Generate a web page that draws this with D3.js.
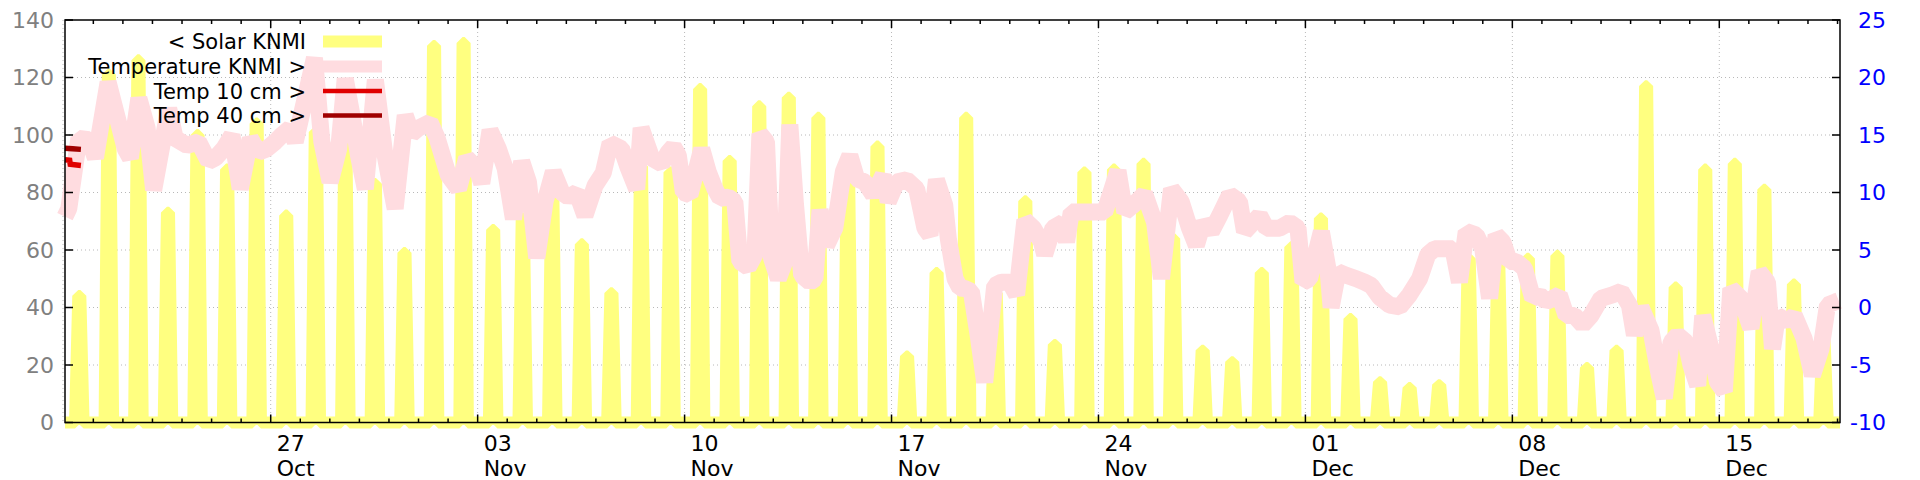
<!DOCTYPE html>
<html><head><meta charset="utf-8">
<script src="https://cdn.jsdelivr.net/npm/d3@7"></script>
<style>
html,body{margin:0;padding:0;background:#fff;}
svg{display:block;font-family:"DejaVu Sans",sans-serif;}
</style></head>
<body><svg id="chart" width="1920" height="480"></svg>
<script>
// ---------------- data ----------------
const domainStart = "2023-10-20T01:00:00Z";
const domainEnd   = "2023-12-19T02:00:00Z";
const firstDay    = "2023-10-20";
// daily peak of solar radiation (left axis), one per day from 20 Oct
const solarPeak = [44,121,126,73,100,88,104,72,101,98,
                   83,59,131,132,67,71,80,62,45,89,
                   87,116,91,110,113,106,91,96,23,52,
                   106,45,77,27,87,88,90,64,25,21,
                   52,61,71,36,14,12,13,57,55,57,
                   58,19,25,117,47,88,90,81,48,29];
// temperature KNMI (right axis): time in days after 20 Oct 00:00, value in °C
const tempDay = [0.04,0.17,0.51,0.85,1.07,1.50,1.86,2.08,2.25,2.54,2.82,3.04,3.55,3.77,4.17,4.56,4.90,5.13,5.41,5.69,5.97,6.31,6.59,6.87,7.15,7.38,7.66,7.83,8.48,8.73,9.01,9.30,9.52,9.75,9.97,10.20,
  10.54,10.85,11.21,11.55,11.77,12.0,12.39,12.62,13.01,13.35,13.63,13.97,14.14,14.42,14.70,14.93,15.21,15.49,15.72,16.0,16.28,16.56,16.85,17.07,17.35,17.63,17.97,18.25,18.48,18.87,19.10,19.38,19.53,19.89,20.23,20.45,
  20.62,20.79,20.96,21.18,21.58,21.80,22.03,22.20,22.48,22.70,22.87,23.15,23.38,23.55,23.77,23.94,24.17,24.39,24.56,24.75,24.96,25.24,25.41,25.58,25.80,26.08,26.37,26.59,26.82,27.1,27.38,27.72,27.89,28.17,28.51,28.85,29.13,29.30,29.52,29.80,29.92,30.15,30.31,
  30.48,30.7,30.93,31.15,31.49,31.72,32.0,32.23,32.51,32.8,33.07,33.18,33.46,33.80,33.92,34.08,34.37,34.65,34.93,35.21,35.66,35.89,36.17,36.56,36.90,37.13,37.47,37.80,38.08,38.31,38.54,38.82,39.10,39.44,39.77,39.94,40.23,
  40.45,40.68,40.90,41.13,41.47,41.75,41.92,42.14,42.54,42.76,42.87,43.10,43.38,43.72,44.0,44.23,44.51,44.85,45.19,45.52,45.86,46.14,46.37,46.76,46.99,47.21,47.44,47.78,48.0,48.23,48.45,48.68,48.90,49.13,49.41,49.69,49.92,50.14,50.37,
  50.59,50.82,51.10,51.38,51.66,52.0,52.39,52.68,52.96,53.13,53.35,53.69,53.97,54.14,54.37,54.59,54.87,55.04,55.27,55.44,55.72,55.94,56.17,56.39,56.73,57.07,57.35,57.63,57.80,57.97,58.31,58.54,58.87,59.15,59.44,59.66,59.94,60.04];
const tempVal = [7.9,8.6,14.7,14.6,13.0,19.6,16.0,13.8,13.0,18.2,15.6,10.2,17.3,14.7,14.1,14.4,12.7,13.0,13.8,15.0,10.3,14.7,13.5,13.8,14.4,15.0,15.6,14.4,21.7,14.4,10.9,13.8,19.9,16.7,13.2,10.3,
  19.8,13.5,8.6,16.7,15.1,15.6,16.1,14.8,11.5,10.3,13.0,12.1,10.8,15.4,13.8,12.1,7.7,12.7,10.9,4.3,9.2,11.8,10.0,9.6,10.0,8.0,10.6,11.7,14.3,13.8,12.1,10.3,15.6,13.0,12.5,13.5,
  14.0,13.2,10.0,9.8,13.8,11.8,10.3,9.5,9.6,9.2,4.0,3.5,4.6,15.1,14.4,4.3,2.5,4.0,15.9,9.0,2.8,2.2,2.5,8.5,5.4,6.9,11.8,13.2,11.2,10.9,9.8,11.5,9.2,10.9,11.1,10.3,6.9,6.3,11.1,8.9,6.0,2.5,1.7,
  1.65,1.4,-2.4,-6.5,1.9,2.2,2.2,1.1,7.6,6.9,5.7,4.6,6.9,7.4,5.7,8.3,8.3,8.3,8.3,8.3,11.9,8.3,8.9,9.9,7.4,2.5,10.3,9.2,6.9,5.4,7.4,6.6,8.0,9.8,9.2,6.6,7.4,
  8.0,6.9,6.9,6.9,7.4,6.9,2.2,2.5,6.6,3.4,0.0,3.1,2.8,2.5,2.2,1.9,0.9,0.2,0.06,1.1,2.5,4.6,5.1,5.1,5.1,2.2,6.6,6.3,5.1,0.8,6.3,5.7,4.0,4.0,3.4,0.8,1.1,0.5,0.8,
  1.1,-0.7,-0.7,-1.5,-0.7,0.8,1.1,1.4,0.2,-2.4,0.0,-2.0,-5.9,-7.9,-3.0,-2.4,-3.0,-5.0,-6.8,-0.7,-3.6,-6.5,-7.3,1.65,0.8,-1.8,3.1,2.2,-3.6,-0.7,-1.2,-0.7,-2.7,-5.9,-3.6,0.2,0.5,0.6];
// soil temperatures (right axis)
const t10Day = [0.04,0.20,0.22,0.58];
const t10Val = [12.85,12.8,12.45,12.35];
const t40Day = [0.04,0.30,0.58];
const t40Val = [13.85,13.8,13.75];
// axis ticks
const leftTicks  = [0,20,40,60,80,100,120,140];
const rightTicks = [-10,-5,0,5,10,15,20,25];
const xTickDates = ["2023-10-27","2023-11-03","2023-11-10","2023-11-17","2023-11-24","2023-12-01","2023-12-08","2023-12-15"];
const legendLabels = ["< Solar KNMI","Temperature KNMI >","Temp 10 cm >","Temp 40 cm >"];

// ---------------- layout ----------------
const L = 65, R = 1840, T = 20, B = 422.5;
const svg = d3.select("#chart");
const parse = s => new Date(s.length > 10 ? s : s + "T00:00:00Z");
const day0 = parse(firstDay);
const atDay = d => new Date(day0.getTime() + d * 864e5);

const x = d3.scaleUtc().domain([parse(domainStart), parse(domainEnd)]).range([L, R]);
const yL = d3.scaleLinear().domain([0, 140]).range([B, T]);
const yR = d3.scaleLinear().domain([-10, 25]).range([B, T]);

const YELLOW = "#ffff80", PINK = "#ffdce0", RED = "#e00000", DRED = "#a00000";

// grid
const grid = svg.append("g");
leftTicks.filter(v => v > 0 && v < 140).forEach(v => {
  grid.append("line").attr("x1", L).attr("x2", R).attr("y1", yL(v)).attr("y2", yL(v))
    .attr("stroke", "#b8b8b8").attr("stroke-width", 1).attr("stroke-dasharray", "1,3");
});
xTickDates.forEach(s => {
  const xx = x(parse(s));
  grid.append("line").attr("x1", xx).attr("x2", xx).attr("y1", T).attr("y2", B)
    .attr("stroke", "#b8b8b8").attr("stroke-width", 1).attr("stroke-dasharray", "1,3");
});
grid.append("line").attr("x1", L - 2).attr("x2", L - 2).attr("y1", T).attr("y2", B)
  .attr("stroke", "#b8b8b8").attr("stroke-width", 1).attr("stroke-dasharray", "1,3");

// solar: thick line rising steeply to each day's peak around midday
const solarPts = [[parse(domainStart), 0]];
solarPeak.forEach((p, i) => {
  solarPts.push([atDay(i + 0.38), 0]);
  solarPts.push([atDay(i + 0.49), p]);
  solarPts.push([atDay(i + 0.56), p]);
  solarPts.push([atDay(i + 0.67), 0]);
});
solarPts.push([parse(domainEnd), 0]);
svg.append("path").attr("d", d3.line().x(d => x(d[0])).y(d => yL(d[1]))(solarPts))
  .attr("fill", "none").attr("stroke", YELLOW).attr("stroke-width", 12)
  .attr("stroke-linejoin", "bevel");

// temperature (hourly wiggles in the source give a broad band)
const lineR = d3.line().x(d => x(atDay(d[0]))).y(d => yR(d[1]));
svg.append("path").attr("d", lineR(tempDay.map((d, i) => [d, tempVal[i]])))
  .attr("fill", "none").attr("stroke", PINK).attr("stroke-width", 17).attr("stroke-linejoin", "bevel");
svg.append("path").attr("d", lineR(t10Day.map((d, i) => [d, t10Val[i]])))
  .attr("fill", "none").attr("stroke", RED).attr("stroke-width", 5.5);
svg.append("path").attr("d", lineR(t40Day.map((d, i) => [d, t40Val[i]])))
  .attr("fill", "none").attr("stroke", DRED).attr("stroke-width", 5.5);

// border & ticks
const ax = svg.append("g").attr("stroke", "#000").attr("stroke-width", 1.5);
ax.append("rect").attr("x", L).attr("y", T).attr("width", R - L).attr("height", B - T).attr("fill", "none");
leftTicks.forEach(v => {
  ax.append("line").attr("x1", L).attr("x2", L + 8).attr("y1", yL(v)).attr("y2", yL(v));
});
rightTicks.forEach(v => {
  ax.append("line").attr("x1", R).attr("x2", R - 8).attr("y1", yR(v)).attr("y2", yR(v));
});
const days = d3.utcDay.range(x.domain()[0], x.domain()[1]);
const majorSet = new Set(xTickDates.map(s => parse(s).getTime()));
days.forEach(dd => {
  const xx = x(dd);
  const len = majorSet.has(dd.getTime()) ? 8 : 4;
  ax.append("line").attr("x1", xx).attr("x2", xx).attr("y1", B).attr("y2", B - len);
  ax.append("line").attr("x1", xx).attr("x2", xx).attr("y1", T).attr("y2", T + len);
});

// tick labels
const lab = svg.append("g").attr("font-size", 22);
leftTicks.forEach(v => {
  lab.append("text").attr("x", 54).attr("y", yL(v)).attr("dy", "0.36em")
    .attr("text-anchor", "end").attr("fill", "#808080").text(v);
});
rightTicks.forEach(v => {
  lab.append("text").attr("x", 1858).attr("y", yR(v)).attr("dy", "0.36em")
    .attr("dx", v < 0 ? "-0.36em" : 0)
    .attr("fill", "#0000ff").text(v);
});
const fD = d3.utcFormat("%d"), fM = d3.utcFormat("%b");
xTickDates.forEach(s => {
  const dd = parse(s), xx = x(dd) + 6;
  lab.append("text").attr("x", xx).attr("y", 451).attr("fill", "#000").text(fD(dd));
  lab.append("text").attr("x", xx).attr("y", 476).attr("fill", "#000").text(fM(dd));
});

// legend
const legColors = [YELLOW, PINK, RED, DRED];
const legWidths = [12, 12, 4.5, 4.5];
const legY = [41.5, 66.5, 91, 115.5];
const lg = svg.append("g").attr("font-size", 21);
legendLabels.forEach((t, i) => {
  lg.append("text").attr("x", 306).attr("y", legY[i]).attr("dy", "0.36em")
    .attr("text-anchor", "end").attr("fill", "#000").text(t);
  lg.append("line").attr("x1", 323).attr("x2", 382).attr("y1", legY[i]).attr("y2", legY[i])
    .attr("stroke", legColors[i]).attr("stroke-width", legWidths[i]);
});
</script></body></html>
